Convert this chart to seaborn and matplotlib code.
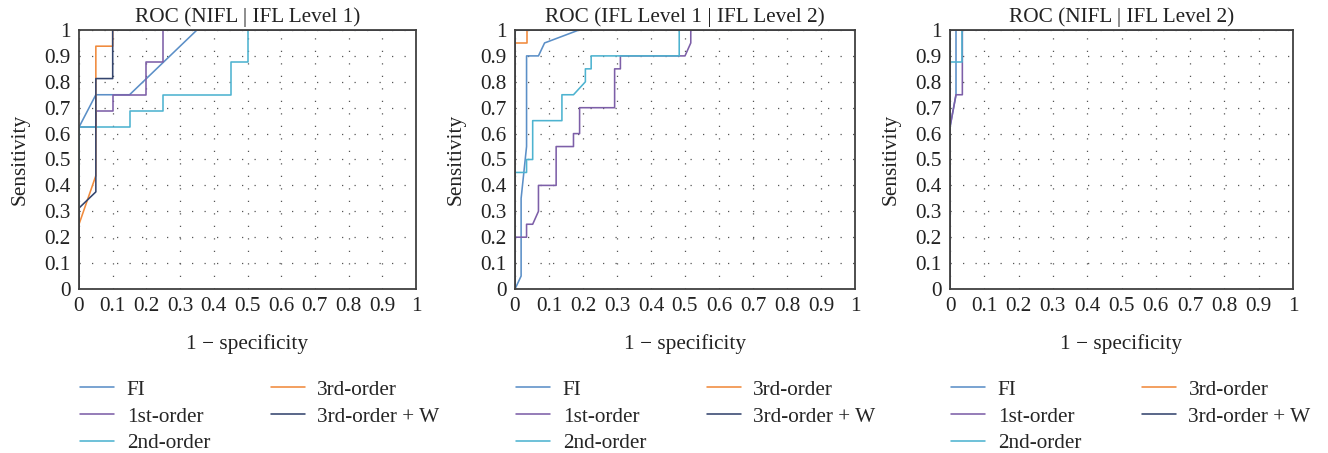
import matplotlib
matplotlib.use("Agg")
import matplotlib.pyplot as plt
import numpy as np
import pandas as pd
import seaborn as sns
from matplotlib.ticker import MultipleLocator, FuncFormatter

series_names = ["FI", "1st-order", "2nd-order", "3rd-order", "3rd-order + W"]
series_colors = ["#5b8fc7", "#7d5fa8", "#4db3d0", "#f08a3c", "#34456e"]
titles = ["ROC (NIFL | IFL Level 1)", "ROC (IFL Level 1 | IFL Level 2)", "ROC (NIFL | IFL Level 2)"]

# Panel 1: NIFL | IFL Level 1
p1_fi_x = [0, 0, 0.05, 0.15, 0.35, 1]
p1_fi_y = [0, 0.625, 0.75, 0.75, 1, 1]
p1_o1_x = [0, 0, 0.05, 0.05, 0.1, 0.1, 0.2, 0.2, 0.25, 0.25, 1]
p1_o1_y = [0, 0.625, 0.625, 0.6875, 0.6875, 0.75, 0.75, 0.875, 0.875, 1, 1]
p1_o2_x = [0, 0, 0.15, 0.15, 0.25, 0.25, 0.45, 0.45, 0.5, 0.5, 1]
p1_o2_y = [0, 0.625, 0.625, 0.6875, 0.6875, 0.75, 0.75, 0.875, 0.875, 1, 1]
p1_o3_x = [0, 0, 0.05, 0.05, 0.1, 0.1, 1]
p1_o3_y = [0, 0.25, 0.4375, 0.9375, 0.9375, 1, 1]
p1_o3w_x = [0, 0, 0.05, 0.05, 0.1, 0.1, 1]
p1_o3w_y = [0, 0.3125, 0.375, 0.8125, 0.8125, 1, 1]

# Panel 2: IFL Level 1 | IFL Level 2
p2_fi_x = [0, 0.018, 0.018, 0.034, 0.034, 0.069, 0.087, 0.188, 1]
p2_fi_y = [0, 0.05, 0.35, 0.55, 0.9, 0.9, 0.95, 1, 1]
p2_o1_x = [0, 0, 0.034, 0.034, 0.052, 0.069, 0.069, 0.121, 0.121, 0.172, 0.172, 0.19, 0.19,
           0.293, 0.293, 0.31, 0.31, 0.5, 0.517, 0.517, 1]
p2_o1_y = [0, 0.2, 0.2, 0.25, 0.25, 0.3, 0.4, 0.4, 0.55, 0.55, 0.6, 0.6, 0.7,
           0.7, 0.85, 0.85, 0.9, 0.9, 0.95, 1, 1]
p2_o2_x = [0, 0, 0.034, 0.034, 0.052, 0.052, 0.138, 0.138, 0.172, 0.207, 0.207, 0.224, 0.224,
           0.483, 0.483, 1]
p2_o2_y = [0, 0.45, 0.45, 0.5, 0.5, 0.65, 0.65, 0.75, 0.75, 0.8, 0.85, 0.85, 0.9,
           0.9, 1, 1]
p2_o3_x = [0, 0, 0.034, 0.034, 1]
p2_o3_y = [0, 0.95, 0.95, 1, 1]
p2_o3w_x = [0, 0, 1]
p2_o3w_y = [0, 1, 1]

# Panel 3: NIFL | IFL Level 2
p3_fi_x = [0, 0, 0.0175, 0.0175, 1]
p3_fi_y = [0, 0.625, 0.75, 1, 1]
p3_o1_x = [0, 0, 0.0175, 0.036, 0.036, 1]
p3_o1_y = [0, 0.625, 0.75, 0.75, 1, 1]
p3_o2_x = [0, 0, 0.036, 0.036, 1]
p3_o2_y = [0, 0.875, 0.875, 1, 1]
p3_o3_x = [0, 0, 1]
p3_o3_y = [0, 1, 1]
p3_o3w_x = [0, 0, 1]
p3_o3w_y = [0, 1, 1]

panels = [
    [(p1_fi_x, p1_fi_y), (p1_o1_x, p1_o1_y), (p1_o2_x, p1_o2_y), (p1_o3_x, p1_o3_y), (p1_o3w_x, p1_o3w_y)],
    [(p2_fi_x, p2_fi_y), (p2_o1_x, p2_o1_y), (p2_o2_x, p2_o2_y), (p2_o3_x, p2_o3_y), (p2_o3w_x, p2_o3w_y)],
    [(p3_fi_x, p3_fi_y), (p3_o1_x, p3_o1_y), (p3_o2_x, p3_o2_y), (p3_o3_x, p3_o3_y), (p3_o3w_x, p3_o3w_y)],
]

sns.set_theme(style="white")
plt.rcParams["font.family"] = ["Liberation Serif", "DejaVu Serif"]

fig = plt.figure(figsize=(13.28, 4.53), dpi=100)
lefts = [79, 515, 950]
rights = [416, 855, 1293]
W, H = 1328, 453
top_px, bot_px = 30, 289

spine_col = "#404040"
txt_col = "#222222"
FS = 15.3

def fmt(v, pos):
    if abs(v) < 1e-9:
        return "0"
    if abs(v - 1) < 1e-9:
        return "1"
    return f"{v:.1f}"

for i, series in enumerate(panels):
    aw = rights[i] - lefts[i]
    ah = bot_px - top_px
    ax = fig.add_axes([lefts[i] / W, 1 - bot_px / H, aw / W, ah / H])
    rows = []
    for name, (xs, ys) in zip(series_names, series):
        for k, (x, y) in enumerate(zip(xs, ys)):
            rows.append({"x": x, "y": y, "series": name, "order": k})
    df = pd.DataFrame(rows)
    sns.lineplot(data=df, x="x", y="y", hue="series", hue_order=series_names,
                 palette=series_colors, sort=False, estimator=None, units="series",
                 linewidth=1.15, ax=ax, legend=True)
    ax.set_xlim(0, 1)
    ax.set_ylim(0, 1)
    ax.xaxis.set_major_locator(MultipleLocator(0.1))
    ax.yaxis.set_major_locator(MultipleLocator(0.1))
    ax.xaxis.set_major_formatter(FuncFormatter(fmt))
    ax.yaxis.set_major_formatter(FuncFormatter(fmt))
    ax.grid(True, color="#555555", linestyle=(0, (1, 9)), linewidth=0.9)
    ax.set_axisbelow(True)
    for s in ax.spines.values():
        s.set_color(spine_col)
        s.set_linewidth(1.3)
    ax.tick_params(axis="both", direction="out", length=4, width=1.0, color=spine_col,
                   labelsize=FS, labelcolor=txt_col, pad=2)
    ax.set_title(titles[i], fontsize=FS, color=txt_col, pad=6)
    ax.set_xlabel("1 \u2212 specificity", fontsize=FS, color=txt_col, labelpad=13)
    ax.set_ylabel("Sensitivity", fontsize=FS, color=txt_col, labelpad=10.5)
    leg = ax.get_legend()
    handles = leg.legend_handles
    labels = [t.get_text() for t in leg.get_texts()]
    leg.remove()
    ax.legend(handles, labels, loc="upper left", bbox_to_anchor=(1 / aw, -91 / ah), ncol=2,
              frameon=False, fontsize=FS, handlelength=1.6, handletextpad=0.6,
              columnspacing=2.85, labelspacing=0.32, borderaxespad=0, borderpad=0)

fig.savefig("out.png", dpi=100)
